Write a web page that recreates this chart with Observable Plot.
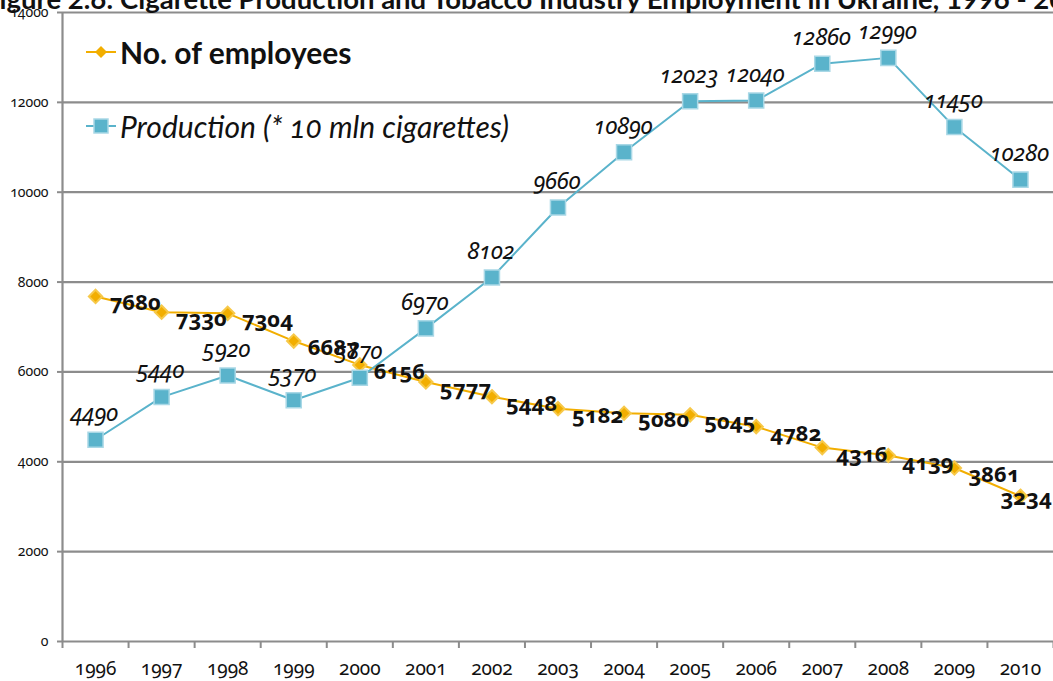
<!DOCTYPE html>
<html>
<head>
<meta charset="utf-8">
<script src="https://cdn.jsdelivr.net/npm/d3@7"></script>
<script src="https://cdn.jsdelivr.net/npm/@observablehq/plot@0.6"></script>
<style>
  html, body { margin: 0; padding: 0; background: #fff; overflow: hidden; }
  #wrap { position: relative; width: 1053px; height: 681px; overflow: hidden; font-family: "Noto Sans", Lato, sans-serif; font-variant-numeric: oldstyle-nums; font-feature-settings: "onum" 1; }
  #title { position: absolute; left: -16px; top: -15px; white-space: nowrap; font: bold 27.5px Lato, sans-serif; line-height: 28px; color: #111; z-index: 2; }
  .leg { position: absolute; display: flex; align-items: center; white-space: nowrap; font-family: Lato, sans-serif; font-size: 30px; color: #111; z-index: 2; }
  .leg svg { margin-right: 3px; }
</style>
</head>
<body>
<div id="wrap">
  <div id="title">Figure 2.6: Cigarette Production and Tobacco Industry Employment in Ukraine, 1996 - 2010</div>
  <div id="chart"></div>
  <div class="leg" id="leg1" style="left:85px; top:34px; font-weight:bold;"></div>
  <div class="leg" id="leg2" style="left:85px; top:108px; font-style:italic;"></div>
</div>
<script>
const years = [1996, 1997, 1998, 1999, 2000, 2001, 2002, 2003, 2004, 2005, 2006, 2007, 2008, 2009, 2010];
const employees = [7680, 7330, 7304, 6687, 6156, 5777, 5448, 5182, 5080, 5045, 4782, 4316, 4139, 3861, 3234];
const production = [4490, 5440, 5920, 5370, 5870, 6970, 8102, 9660, 10890, 12023, 12040, 12860, 12990, 11450, 10280];
const yTicks = [0, 2000, 4000, 6000, 8000, 10000, 12000, 14000];
const seriesNames = ["No. of employees", "Production (* 10 mln cigarettes)"];

const orange = "#F2AE00";
const blue = "#5AB3CB";
const grid = "#8C8C8C";

const emp = years.map((y, i) => ({year: y, value: employees[i]}));
const prod = years.map((y, i) => ({year: y, value: production[i]}));
const bounds = years.map(y => y - 0.5).concat([years[years.length - 1] + 0.5]);
const lastEmp = emp.slice(-1);
const restEmp = emp.slice(0, -1);

const chart = Plot.plot({
  width: 1053,
  height: 681,
  marginLeft: 62,
  marginRight: 0,
  marginTop: 12,
  marginBottom: 40,
  style: {fontFamily: "'Noto Sans', Lato, sans-serif", fontVariantNumeric: "oldstyle-nums", fontFeatureSettings: "'onum' 1", background: "#fff", color: "#111"},
  x: {domain: [bounds[0], bounds[bounds.length - 1]], axis: null},
  y: {domain: [0, 14000], axis: null},
  marks: [
    Plot.ruleY(yTicks, {stroke: grid, strokeWidth: 2.2}),
    Plot.ruleX([bounds[0]], {stroke: grid, strokeWidth: 2.2}),
    Plot.axisY({ticks: yTicks, tickSize: 5, tickPadding: 9, fontSize: 14, stroke: grid, strokeWidth: 2, tickFormat: d => String(d), color: "#111", label: null}),
    Plot.axisX({ticks: bounds, tickSize: 7, stroke: grid, strokeWidth: 2, tickFormat: () => "", label: null}),
    Plot.axisX({ticks: years, tickSize: 0, tickPadding: 20, fontSize: 19, tickFormat: d => String(d), color: "#111", label: null}),
    Plot.line(emp, {x: "year", y: "value", stroke: orange, strokeWidth: 2}),
    Plot.line(prod, {x: "year", y: "value", stroke: blue, strokeWidth: 2}),
    Plot.dot(emp, {x: "year", y: "value", symbol: "diamond2", r: 6, fill: orange, stroke: "#F7C94A", strokeWidth: 2}),
    Plot.dot(prod, {x: "year", y: "value", symbol: "square", r: 8.5, fill: blue, stroke: "#A9D8E6", strokeWidth: 1.5}),
    Plot.text(restEmp, {x: "year", y: "value", text: d => String(d.value), textAnchor: "start", dx: 14, dy: 7, fontSize: 22, fontWeight: "bold", fill: "#111"}),
    Plot.text(lastEmp, {x: "year", y: "value", text: d => String(d.value), textAnchor: "start", dx: -20, dy: 2, fontSize: 22, fontWeight: "bold", fill: "#111"}),
    Plot.text(prod, {x: "year", y: "value", text: d => String(d.value), textAnchor: "middle", dx: -1, dy: -26, fontSize: 23, fontStyle: "italic", fill: "#111"})
  ]
});
document.getElementById("chart").appendChild(chart);

document.getElementById("leg1").innerHTML =
  `<svg width="32" height="16"><line x1="1" y1="8" x2="31" y2="8" stroke="${orange}" stroke-width="2"/><path d="M16,2 L22,8 L16,14 L10,8 Z" fill="${orange}"/></svg>` +
  `<span>${seriesNames[0]}</span>`;
document.getElementById("leg2").innerHTML =
  `<svg width="32" height="18"><line x1="1" y1="9" x2="31" y2="9" stroke="${blue}" stroke-width="2"/><rect x="9" y="2" width="14" height="14" fill="${blue}" stroke="#A9D8E6" stroke-width="1.5"/></svg>` +
  `<span>${seriesNames[1]}</span>`;
</script>
</body>
</html>
